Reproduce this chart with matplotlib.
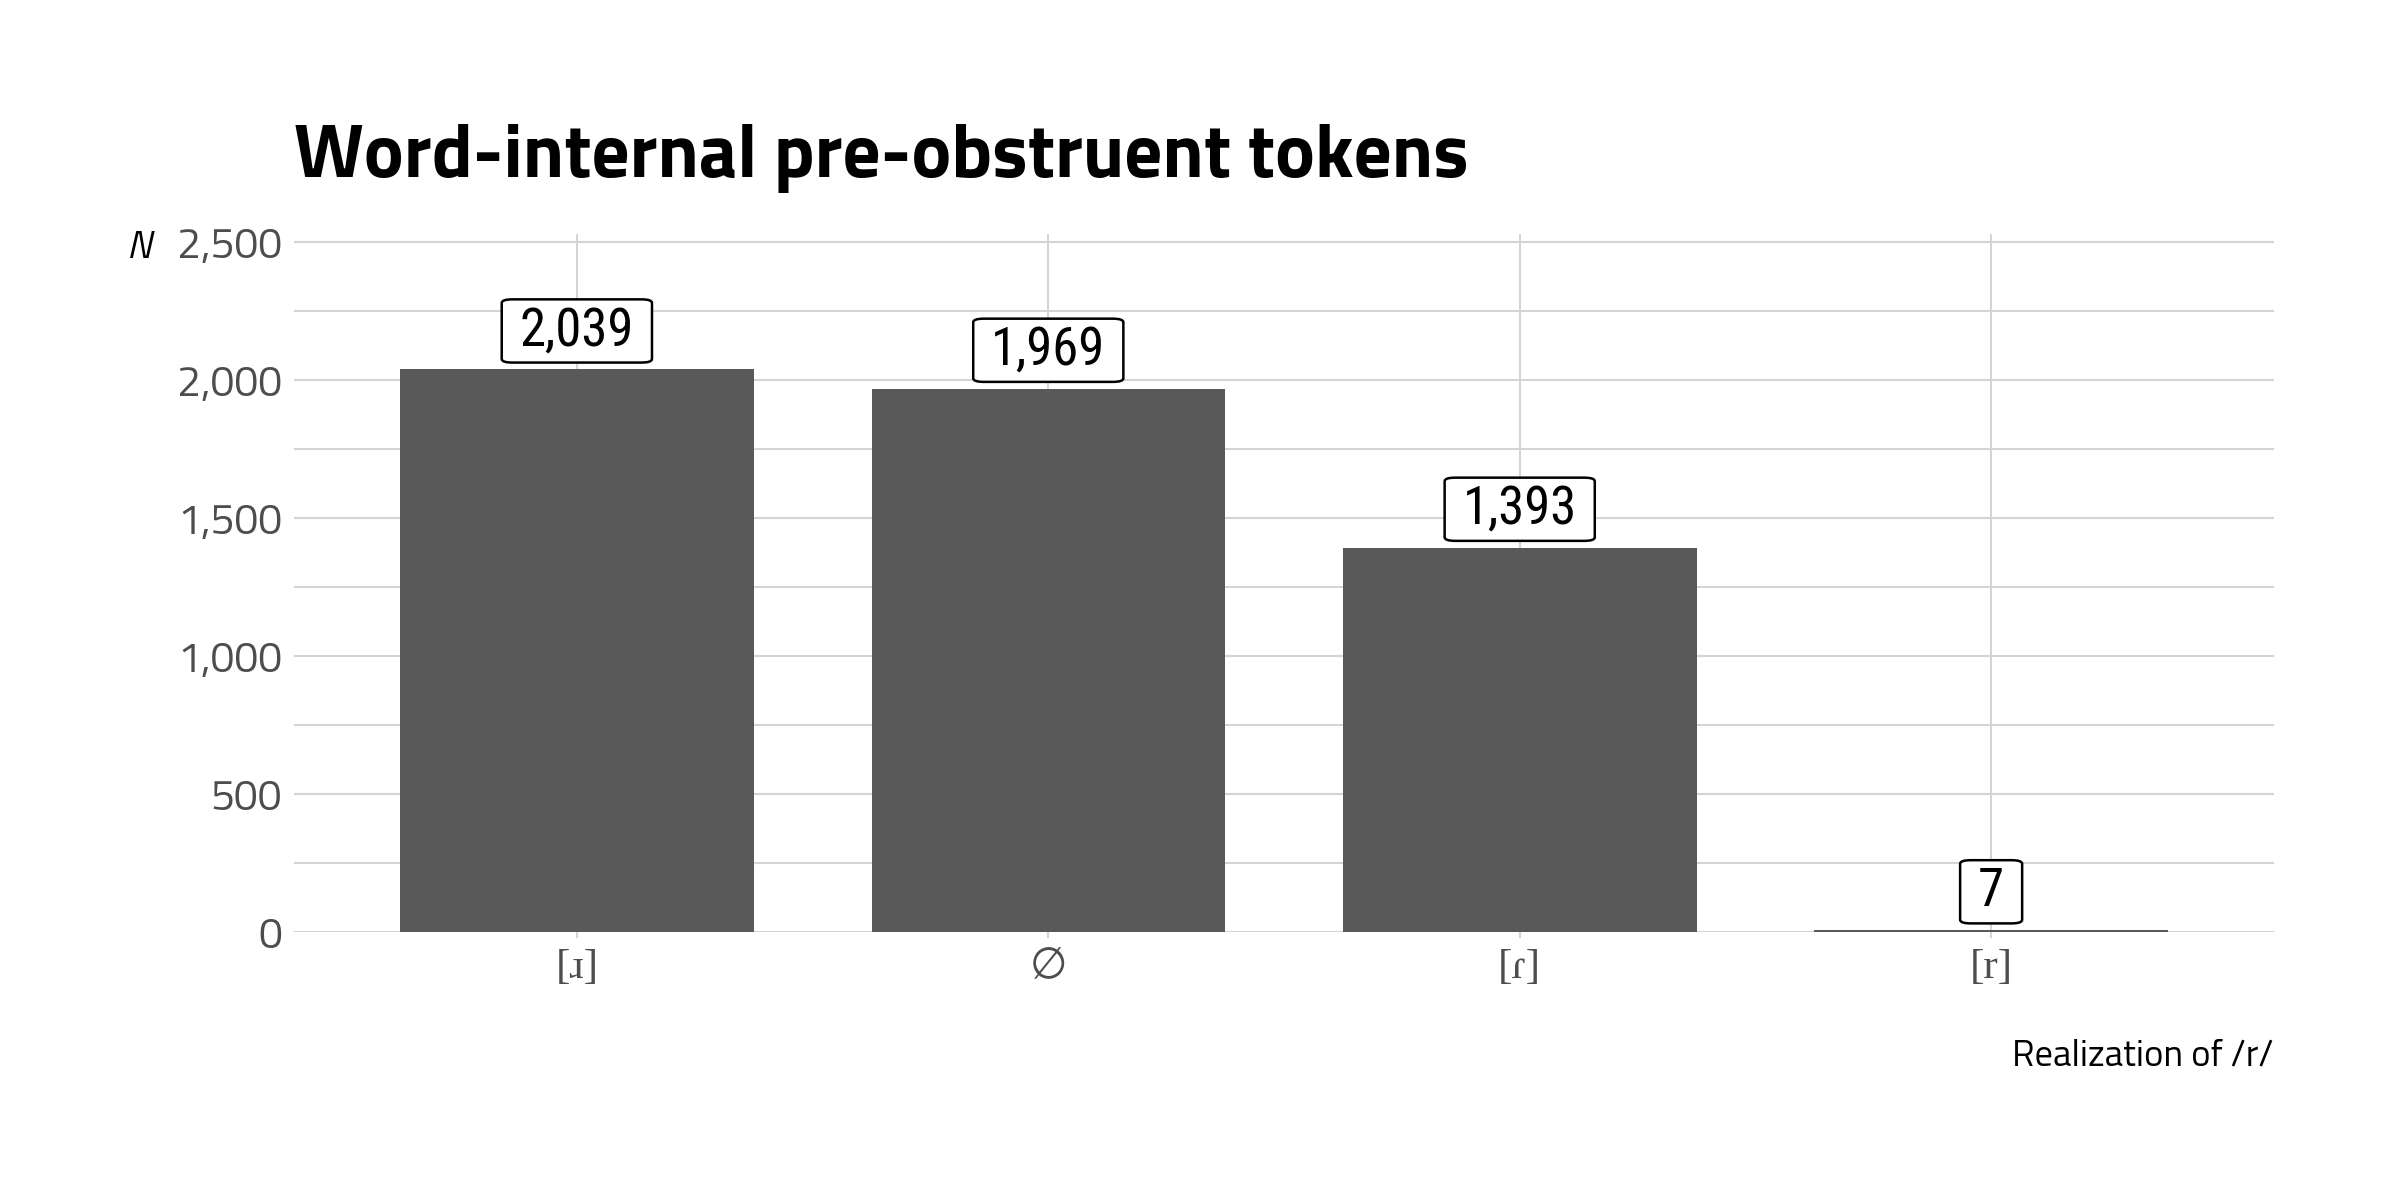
import matplotlib
matplotlib.use("Agg")
import matplotlib.pyplot as plt
from matplotlib import font_manager as fm

categories = ["[ɹ]", "∅", "[ɾ]", "[r]"]
counts = [2039, 1969, 1393, 7]
yticks = [0, 500, 1000, 1500, 2000, 2500]
ytick_labels = ["0", "500", "1,000", "1,500", "2,000", "2,500"]
minor_yticks = [250, 750, 1250, 1750, 2250]
value_labels = ["2,039", "1,969", "1,393", "7"]
title = "Word-internal pre-obstruent tokens"
x_label = "Realization of /r/"
y_label = "N"

names = {f.name for f in fm.fontManager.ttflist}
base = "Titillium Web" if "Titillium Web" in names else "Open Sans"
label_font = next((n for n in ["Roboto Condensed", "Archivo Narrow", "Asap Condensed"] if n in names), base)
fam = [base, "DejaVu Sans"]
plt.rcParams['font.family'] = fam

fig = plt.figure(figsize=(12, 6), dpi=200)
ax = fig.add_axes([0.1225, 0.22333, 0.825, 0.58167])

x = list(range(len(categories)))
ax.bar(x, counts, width=0.75, color="#595959", zorder=2)

ax.set_xlim(-0.6, 3.6)
ax.set_ylim(0, 2529)
ax.set_yticks(yticks)
ax.set_yticklabels(ytick_labels)
ax.set_yticks(minor_yticks, minor=True)
ax.set_xticks(x)
ax.set_xticklabels(categories, family=["Liberation Serif", "DejaVu Sans"], fontsize=15.5)

grid_col = "#d4d4d4"
ax.grid(True, which="major", color=grid_col, linewidth=0.75, zorder=0)
ax.grid(True, which="minor", axis="y", color=grid_col, linewidth=0.75, zorder=0)
ax.set_axisbelow(True)
for s in ax.spines.values():
    s.set_visible(False)
ax.tick_params(axis="y", which="both", length=0, labelsize=15.4, colors="#4d4d4d", pad=4.3)
ax.tick_params(axis="x", length=2.2, width=0.75, color=grid_col,
               labelcolor="#4d4d4d", pad=3.8)

for xi, v, lab in zip(x, counts, value_labels):
    ax.annotate(lab, (xi, v), xytext=(0, 4.6), textcoords="offset points",
                ha="center", va="bottom", fontsize=19.0, color="black",
                family=[label_font, "DejaVu Sans"],
                bbox=dict(boxstyle="round,pad=0.34,rounding_size=0.2", mutation_aspect=0.34,
                          fc="white", ec="black", lw=0.9),
                zorder=5)

fig.text(0.1225, 1 - 177 / 1200, title, fontsize=27.0, fontweight="bold",
         ha="left", va="baseline")
fig.text(139 / 2400, 1 - 248 / 1200, y_label, fontsize=14, style="italic",
         ha="center", va="center")
fig.text(0.9475, 1 - 1065 / 1200, x_label, fontsize=13.2, ha="right", va="baseline")

fig.savefig("out.png", dpi=200)
